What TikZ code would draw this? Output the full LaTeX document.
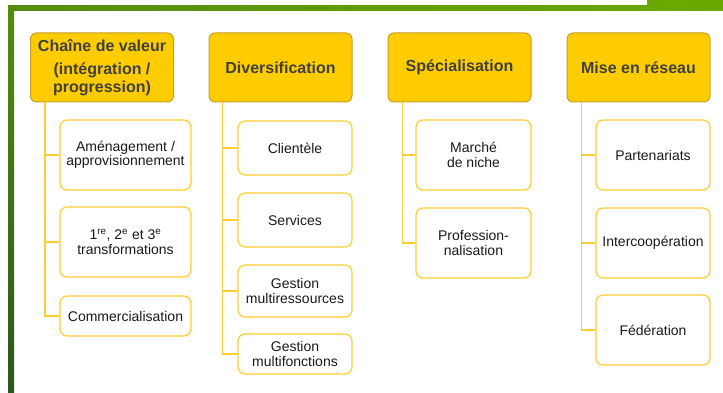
\documentclass[tikz,border=0pt]{standalone}
\usepackage{fontspec}
\setmainfont{Liberation Sans}

\definecolor{hdrfill}{RGB}{255,204,0}
\definecolor{hdrline}{RGB}{196,160,40}
\definecolor{subline}{RGB}{255,204,51}
\definecolor{hdrtext}{RGB}{64,64,64}
\definecolor{subtext}{RGB}{26,26,26}
\definecolor{frameA}{RGB}{84,140,16}
\definecolor{frameB}{RGB}{106,170,0}
\definecolor{frameC}{RGB}{44,86,30}

\begin{document}
\begin{tikzpicture}[x=1pt, y=-1pt,
	header/.style={draw=hdrline, fill=hdrfill, line width=1pt, rounded corners=6pt,
		inner sep=0pt, minimum width=143pt, minimum height=69pt, align=center,
		text=hdrtext, font=\fontsize{16}{18}\selectfont\bfseries},
	item/.style={draw=subline, fill=white, line width=1.2pt, rounded corners=7pt,
		inner sep=0pt, align=center, text=subtext, font=\fontsize{14}{14.5}\selectfont},
	link/.style={draw=subline, line width=1.5pt}]
	\useasboundingbox (0,0) rectangle (723,393);

	% frame
	\fill[frameB] (647,0) rectangle (723,6);
	\shade[left color=frameA, right color=frameB] (8,6) rectangle (723,11);
	\shade[top color=frameA, bottom color=frameC] (8,6) rectangle (14,393);

	% headers
	\node[header] (valeur) at (102,67.5)   {Chaîne de valeur\\[5pt](intégration /\\progression)};
	\node[header] (divers) at (280.5,67.5) {Diversification};
	\node[header] (specia) at (459.5,67.5) {Spécialisation};
	\node[header] (reseau) at (638.5,67.5) {Mise en réseau};

	% chaine de valeur
	\node[item, minimum width=131pt, minimum height=70pt] (amenag)  at (125.5,155) {Aménagement /\\approvisionnement};
	\node[item, minimum width=131pt, minimum height=70pt] (transfo) at (125.5,242) {1\textsuperscript{re}, 2\textsuperscript{e} et 3\textsuperscript{e}\\transformations};
	\node[item, minimum width=131pt, minimum height=40pt] (commerc) at (125.5,316) {Commercialisation};

	% diversification
	\node[item, minimum width=114pt, minimum height=54pt] (client)  at (295,148) {Clientèle};
	\node[item, minimum width=114pt, minimum height=54pt] (servic)  at (295,220) {Services};
	\node[item, minimum width=114pt, minimum height=52pt] (multres) at (295,291) {Gestion\\multiressources};
	\node[item, minimum width=114pt, minimum height=40pt] (multfon) at (295,354) {Gestion\\multifonctions};

	% specialisation
	\node[item, minimum width=115pt, minimum height=70pt] (niche)  at (473.5,155) {Marché\\de niche};
	\node[item, minimum width=115pt, minimum height=70pt] (profes) at (473.5,243) {Profession-\\nalisation};

	% mise en reseau
	\node[item, minimum width=114pt, minimum height=70pt] (parten) at (653,155) {Partenariats};
	\node[item, minimum width=114pt, minimum height=70pt] (interc) at (653,243) {Intercoopération};
	\node[item, minimum width=114pt, minimum height=70pt] (federa) at (653,330) {Fédération};

	% connectors
	\foreach \c in {amenag, transfo, commerc}
		\draw[link] ([xshift=15pt]valeur.south west) |- (\c.west);
	\foreach \c in {client, servic, multres, multfon}
		\draw[link] ([xshift=14pt]divers.south west) |- (\c.west);
	\foreach \c in {niche, profes}
		\draw[link] ([xshift=15pt]specia.south west) |- (\c.west);
	\foreach \c in {parten, interc, federa}
		\draw[link] ([xshift=15pt]reseau.south west) |- (\c.west);
\end{tikzpicture}
\end{document}
